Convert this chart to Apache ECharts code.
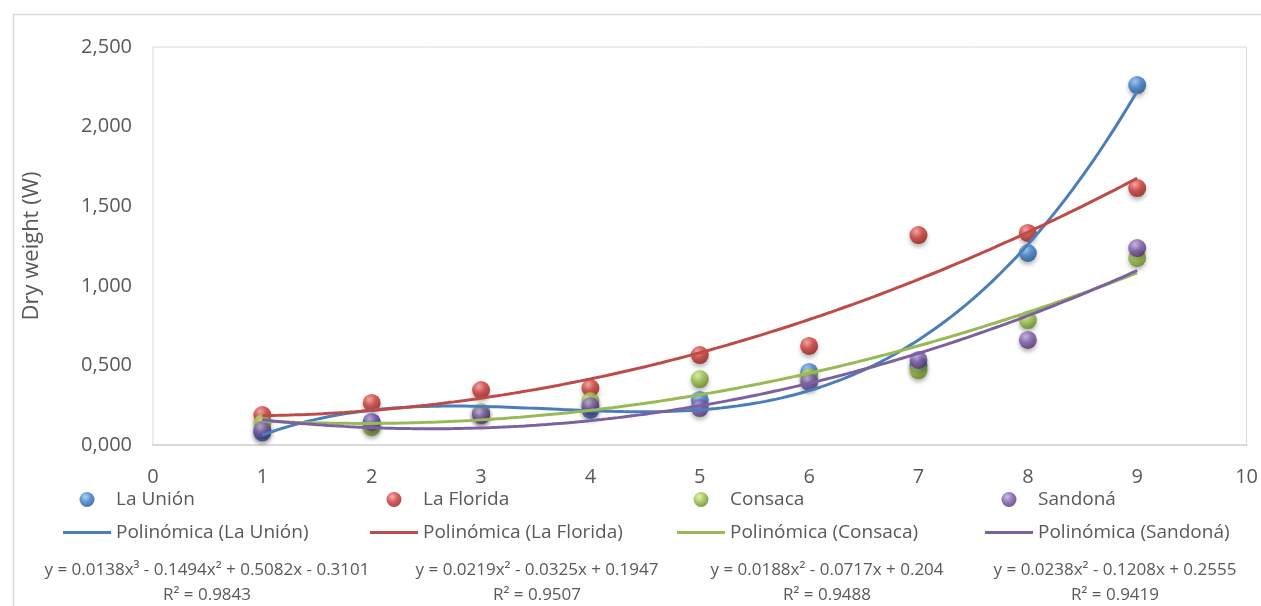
<!DOCTYPE html>
<html>
<head>
<meta charset="utf-8">
<script src="https://cdn.jsdelivr.net/npm/echarts@6/dist/echarts.min.js"></script>
<style>
html,body{margin:0;padding:0;background:#fff;}
#chart{width:1261px;height:606px;}
</style>
</head>
<body>
<div id="chart"></div>
<script>
// ---- data ----
const xValues = [1, 2, 3, 4, 5, 6, 7, 8, 9];
const laUnion   = [0.08, 0.14, 0.20, 0.22, 0.283, 0.459, 0.50, 1.206, 2.261];
const laFlorida = [0.188, 0.264, 0.345, 0.358, 0.565, 0.622, 1.319, 1.332, 1.614];
const consaca   = [0.138, 0.113, 0.207, 0.276, 0.414, 0.427, 0.471, 0.785, 1.175];
const sandona   = [0.094, 0.145, 0.188, 0.245, 0.232, 0.396, 0.534, 0.66, 1.237];
const seriesNames = ['La Unión', 'La Florida', 'Consaca', 'Sandoná'];
// trendline coefficients as printed (highest power first)
const coefUnion   = [0.0138, -0.1494, 0.5082, -0.3101];
const coefFlorida = [0.0219, -0.0325, 0.1947];
const coefConsaca = [0.0188, -0.0717, 0.204];
const coefSandona = [0.0238, -0.1208, 0.2555];
const r2Values = ['0.9843', '0.9507', '0.9488', '0.9419'];
const xTicks = [0, 10, 1];
const yTicks = [0, 2.5, 0.5];

const pointColors = [
  ['#9cc6f0', '#3b7fcc', '#1d4a85'],
  ['#f4a09c', '#d03a35', '#861a17'],
  ['#dcefa6', '#9bc144', '#5b7a1c'],
  ['#c4afe0', '#7e5bae', '#452a6c']
];
const lineColors = ['#4a7ebb', '#be4b48', '#98b954', '#7d60a0'];
const allData = [laUnion, laFlorida, consaca, sandona];
const allCoef = [coefUnion, coefFlorida, coefConsaca, coefSandona];

function polyEval(c, x) {
  let y = 0;
  for (let i = 0; i < c.length; i++) y = y * x + c[i];
  return y;
}
function trendPoints(c) {
  const pts = [];
  for (let k = 0; k <= 160; k++) {
    const x = 1 + k * 0.05;
    pts.push([x, polyEval(c, x)]);
  }
  return pts;
}
const sup = {2: '²', 3: '³'};
function eqText(c) {
  const deg = c.length - 1;
  let s = 'y = ';
  c.forEach((v, i) => {
    const p = deg - i;
    const a = Math.abs(v);
    const term = a + (p === 0 ? '' : p === 1 ? 'x' : 'x' + sup[p]);
    if (i === 0) s += (v < 0 ? '-' : '') + term;
    else s += (v < 0 ? ' - ' : ' + ') + term;
  });
  return s;
}

function gradient(cols) {
  return new echarts.graphic.RadialGradient(0.38, 0.32, 0.75, [
    {offset: 0, color: cols[0]},
    {offset: 0.45, color: cols[1]},
    {offset: 1, color: cols[2]}
  ]);
}

const series = [];
seriesNames.forEach((n, i) => {
  series.push({
    name: n,
    type: 'scatter',
    z: 2,
    symbolSize: 18,
    data: xValues.map((x, j) => [x, allData[i][j]]),
    itemStyle: {
      color: gradient(pointColors[i]),
      shadowColor: 'rgba(0,0,0,0.35)',
      shadowBlur: 4,
      shadowOffsetY: 3
    }
  });
});
seriesNames.forEach((n, i) => {
  series.push({
    name: 'Polinómica (' + n + ')',
    type: 'line',
    z: 3,
    symbol: 'none',
    smooth: false,
    data: trendPoints(allCoef[i]),
    lineStyle: {color: lineColors[i], width: 3},
    itemStyle: {color: lineColors[i]}
  });
});

const txt = '#595959';
const fontFam = '"Open Sans", "Noto Sans", sans-serif';
const colLefts = [63, 370, 677, 985];
const eqCenters = [207, 537, 827, 1115];

const legends = seriesNames.map((n, i) => ({
  orient: 'vertical',
  left: colLefts[i],
  top: 489,
  padding: 0,
  itemWidth: 48,
  itemHeight: 15,
  itemGap: 12,
  selectedMode: false,
  textStyle: {color: txt, fontSize: 19, fontFamily: fontFam, lineHeight: 21, padding: [0, 0, 0, 0]},
  data: [
    {name: n, icon: 'circle'},
    {name: 'Polinómica (' + n + ')', icon: 'path://M0 0h16v1H0z'}
  ]
}));

const graphics = [
  {type: 'rect', left: 11, top: 12, shape: {width: 1300, height: 700}, style: {fill: 'none', stroke: '#d9d9d9', lineWidth: 1.5}, z: -1}
];
allCoef.forEach((c, i) => {
  graphics.push({
    type: 'text', x: eqCenters[i], y: 570,
    style: {text: eqText(c), fill: txt, font: '17px ' + fontFam, textAlign: 'center', textVerticalAlign: 'middle'}
  });
  graphics.push({
    type: 'text', x: eqCenters[i], y: 595,
    style: {text: 'R² = ' + r2Values[i], fill: txt, font: '17px ' + fontFam, textAlign: 'center', textVerticalAlign: 'middle'}
  });
});

const chart = echarts.init(document.getElementById('chart'), null, {renderer: 'canvas'});
chart.setOption({
  animation: false,
  backgroundColor: '#fff',
  grid: {left: 153, right: 14, top: 47, bottom: 161, show: true, borderColor: '#d9d9d9', borderWidth: 1, backgroundColor: 'transparent'},
  xAxis: {
    type: 'value', min: xTicks[0], max: xTicks[1], interval: xTicks[2],
    axisLine: {show: true, lineStyle: {color: '#d9d9d9', width: 2}},
    axisTick: {show: false},
    splitLine: {show: false},
    axisLabel: {color: txt, fontSize: 20, fontFamily: fontFam, margin: 22}
  },
  yAxis: {
    type: 'value', min: yTicks[0], max: yTicks[1], interval: yTicks[2],
    name: 'Dry weight (W)', nameLocation: 'middle', nameGap: 110,
    nameTextStyle: {color: txt, fontSize: 22, fontFamily: fontFam},
    axisLine: {show: false},
    axisTick: {show: false},
    splitLine: {show: false},
    axisLabel: {color: txt, fontSize: 20, fontFamily: fontFam, margin: 21,
      formatter: v => v.toFixed(3).replace('.', ',')}
  },
  legend: legends,
  graphic: graphics,
  series: series
});
</script>
</body>
</html>
